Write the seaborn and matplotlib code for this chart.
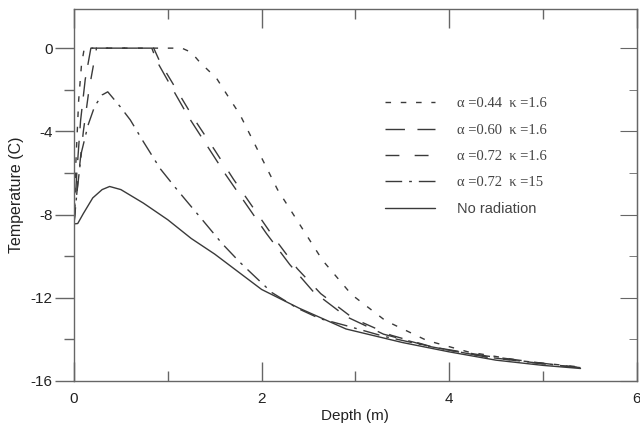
import numpy as np
import pandas as pd
import matplotlib
matplotlib.use("Agg")
import matplotlib.pyplot as plt
import seaborn as sns

# depth (m) / temperature (C)
a044_x = [0, 0.02, 0.05, 0.08, 0.11, 1.15, 1.25, 1.34, 1.52, 1.64, 1.77, 1.97, 2.17, 2.41, 2.65, 2.96, 3.32, 3.76, 4.2, 4.8, 5.4]
a044_y = [-8.45, -5.5, -2.5, -0.8, 0, 0, -0.2, -0.67, -1.45, -2.3, -3.2, -5.0, -6.8, -8.5, -10.2, -11.85, -13.1, -14.05, -14.6, -15.05, -15.33]

a060_x = [0, 0.03, 0.07, 0.12, 0.18, 0.83, 0.88, 1.03, 1.22, 1.42, 1.62, 1.85, 2.05, 2.3, 2.55, 2.9, 3.3, 3.8, 4.4, 5.0, 5.4]
a060_y = [-8.45, -6.0, -3.5, -1.5, 0, 0, -0.6, -1.8, -3.3, -4.7, -6.1, -7.6, -8.9, -10.4, -11.7, -12.9, -13.75, -14.35, -14.8, -15.15, -15.36]

a072_x = [0, 0.04, 0.1, 0.16, 0.24, 0.85, 0.92, 1.08, 1.28, 1.5, 1.7, 1.93, 2.13, 2.38, 2.63, 2.98, 3.38, 3.85, 4.4, 5.0, 5.4]
a072_y = [-8.45, -6.5, -4.0, -2.0, 0, 0, -0.7, -1.9, -3.4, -4.9, -6.3, -7.8, -9.1, -10.6, -11.8, -13.0, -13.8, -14.4, -14.85, -15.18, -15.37]

k15_x = [0, 0.03, 0.08, 0.15, 0.22, 0.3, 0.36, 0.49, 0.6, 0.74, 0.92, 1.08, 1.2, 1.34, 1.58, 1.77, 1.91, 2.11, 2.38, 2.62, 2.91, 3.3, 3.8, 4.4, 5.0, 5.4]
k15_y = [-8.45, -7.0, -5.0, -3.7, -2.8, -2.25, -2.1, -2.8, -3.45, -4.5, -5.8, -6.7, -7.35, -8.1, -9.4, -10.3, -10.9, -11.75, -12.5, -13.0, -13.35, -13.85, -14.35, -14.85, -15.17, -15.36]

norad_x = [0, 0.04, 0.1, 0.2, 0.3, 0.38, 0.5, 0.74, 1.0, 1.25, 1.5, 1.75, 2.0, 2.4, 2.9, 3.5, 4.0, 4.5, 5.0, 5.4]
norad_y = [-8.45, -8.43, -7.95, -7.2, -6.8, -6.65, -6.8, -7.45, -8.25, -9.15, -9.9, -10.75, -11.6, -12.5, -13.5, -14.15, -14.6, -15.0, -15.25, -15.4]

labels = ["α =0.44  κ =1.6", "α =0.60  κ =1.6", "α =0.72  κ =1.6",
          "α =0.72  κ =15", "No radiation"]
xs = [a044_x, a060_x, a072_x, k15_x, norad_x]
ys = [a044_y, a060_y, a072_y, k15_y, norad_y]

frames = []
for lab, x, y in zip(labels, xs, ys):
    frames.append(pd.DataFrame({"depth": x, "temp": y, "case": lab}))
df = pd.concat(frames, ignore_index=True)

sns.set_style("white")
plt.rcParams['font.family'] = ['Liberation Sans', 'DejaVu Sans']
plt.rcParams['axes.unicode_minus'] = False

dashes = {
    labels[0]: (4, 7),
    labels[1]: (14, 9),
    labels[2]: (10, 11),
    labels[3]: (12, 5, 2, 5),
    labels[4]: "",
}

fig = plt.figure(figsize=(6.4, 4.3), dpi=100)
ax = fig.add_axes([0.1156, 0.114, 0.8794, 0.865])
sns.lineplot(data=df, x="depth", y="temp", style="case", dashes=dashes,
             color="#3a3a3a", linewidth=1.0, sort=False, estimator=None,
             ax=ax, legend=True)

ax.set_xlim(0, 6)
ax.set_ylim(-16, 1.88)
ax.set_xticks([0, 2, 4, 6])
ax.set_xticks([1, 3, 5], minor=True)
ax.set_yticks([0, -4, -8, -12, -16])
ax.set_yticks([-2, -6, -10, -14], minor=True)

for s in ax.spines.values():
    s.set_color("#666666")
    s.set_linewidth(1.0)

ax.tick_params(which="both", color="#666666", width=1.0, labelsize=11,
               labelcolor="#222222")
ax.tick_params(axis="x", which="both", direction="in", top=True, bottom=True, pad=8)
ax.tick_params(axis="y", which="both", direction="out", left=True, right=False, pad=2)
ax.tick_params(which="major", length=13.5)
ax.tick_params(which="minor", length=7)

# right side ticks point inward
ax2 = ax.secondary_yaxis("right")
ax2.set_yticks([0, -4, -8, -12, -16])
ax2.set_yticks([-2, -6, -10, -14], minor=True)
ax2.tick_params(which="both", direction="in", color="#666666", labelright=False)
ax2.tick_params(which="major", length=12.5)
ax2.tick_params(which="minor", length=6)
ax2.spines["right"].set_color("#666666")

ax.set_xlabel("Depth (m)", fontsize=11, color="#222222", labelpad=2)
ax.set_ylabel("Temperature (C)", fontsize=11.5, color="#222222", labelpad=5)

handles, _ = ax.get_legend_handles_labels()
leg = ax.legend(handles, labels, loc="upper left", bbox_to_anchor=(0.53, 0.798),
                frameon=False, fontsize=10.5, handlelength=3.4, handletextpad=1.5,
                labelspacing=0.89)
for i, t in enumerate(leg.get_texts()):
    t.set_color("#444444")
    if i < 4:
        t.set_family("Liberation Serif")

fig.savefig("out.png", dpi=100)
